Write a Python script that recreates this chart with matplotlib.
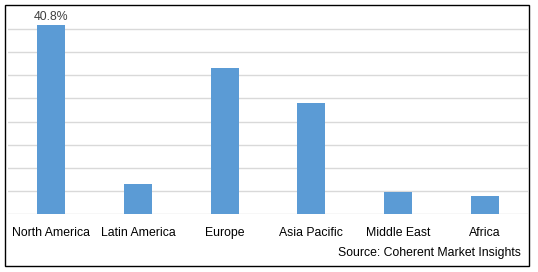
#
# bar chart: market share by region
#
import matplotlib
matplotlib.use('Agg')
import matplotlib.pyplot as plt
from matplotlib.patches import Rectangle
#
# data
#
regions=['North America','Latin America','Europe','Asia Pacific','Middle East','Africa']
share=[40.8,6.5,31.5,24.1,4.8,3.9]
label_idx=0
source='Source: Coherent Market Insights'
#
# figure
#
W,H=538,272
fig=plt.figure(figsize=(W/100,H/100),dpi=100)
plt.rcParams['font.family']=['Liberation Sans','DejaVu Sans']
ax=fig.add_axes([8/W,(H-214)/H,(528-8)/W,208/H])
x=range(len(regions))
ax.bar(x,share,width=0.32,color='#5B9BD5',zorder=3)
ax.set_xlim(-0.5,len(regions)-0.5)
ax.set_ylim(0,45)
ax.set_yticks(range(0,45,5))
ax.yaxis.grid(True,color='#D9D9D9',linewidth=1.0,zorder=0)
ax.tick_params(axis='y',left=False,labelleft=False)
ax.tick_params(axis='x',bottom=False,pad=6,labelsize=8.8,labelcolor='#000000')
ax.set_xticks(list(x))
ax.set_xticklabels(regions)
for s in ax.spines.values():
  s.set_visible(False)
ax.text(label_idx,share[label_idx]+0.6,'%.1f%%'%share[label_idx],ha='center',va='bottom',fontsize=8.8,color='#404040')
fig.text(521/W,1-253/H,source,ha='right',va='center',fontsize=8.8,color='#000000')
#
# outer border
#
fig.patches.append(Rectangle((4.5/W,1-266/H),(528.5-4.5)/W,(266-4.5)/H,transform=fig.transFigure,fill=False,edgecolor='black',linewidth=1.0))
fig.savefig('out.png',dpi=100)
